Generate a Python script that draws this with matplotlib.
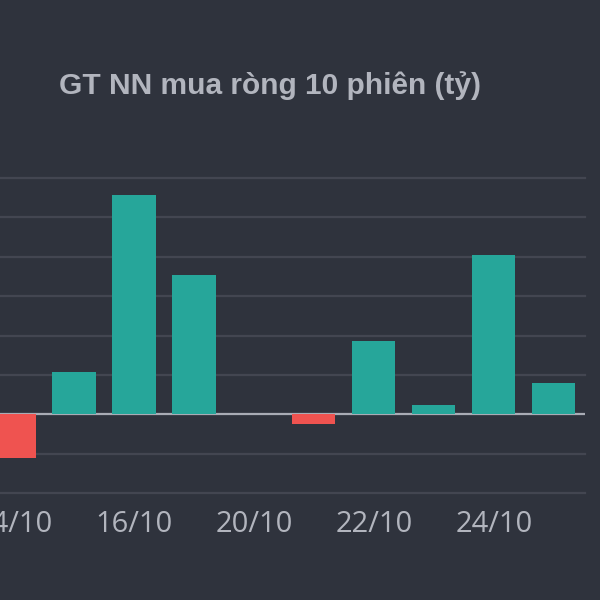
import matplotlib
matplotlib.use("Agg")
import matplotlib.pyplot as plt
import numpy as np

# foreign net buying, last 10 sessions (ty dong)
dates = ["14/10", "15/10", "16/10", "17/10", "20/10", "21/10", "22/10", "23/10", "24/10", "25/10"]
net_buy = [-112, 107, 557, 354, 0, -25, 186, 23, 405, 79]
grid_levels = [-200, -100, 0, 100, 200, 300, 400, 500, 600]

BG = "#2f333d"
UP = "#26a69a"
DOWN = "#ef5350"
GRID = "#434651"
TXT = "#b2b5be"

fig = plt.figure(figsize=(6, 6), dpi=100, facecolor=BG)
ax = fig.add_axes([0.0, 107 / 600, 585 / 600, 315 / 600])
ax.set_facecolor(BG)

x = np.arange(len(dates))
for lv in grid_levels:
    if lv == 0:
        continue
    ax.axhline(lv, color=GRID, lw=1.6, zorder=0, clip_on=False)
ax.axhline(0, color="#a9acb5", lw=1.6, zorder=1)

cols = [UP if v >= 0 else DOWN for v in net_buy]
ax.bar(x, net_buy, width=0.72, color=cols, zorder=2)

ax.set_xlim(-0.233, 9.52)
ax.set_ylim(-200, 600)
for s in ax.spines.values():
    s.set_visible(False)
ax.set_yticks([])
ax.set_xticks(x[::2])
ax.set_xticklabels(dates[::2], fontsize=21, color=TXT, family="Open Sans")
ax.tick_params(axis="x", length=0, pad=12)

fig.text(0.45, 0.857, "GT NN mua ròng 10 phiên (tỷ)", ha="center", va="center",
         fontsize=21.5, fontweight="bold", color=TXT, family="Liberation Sans")

fig.savefig("out.png", dpi=100, facecolor=BG)
